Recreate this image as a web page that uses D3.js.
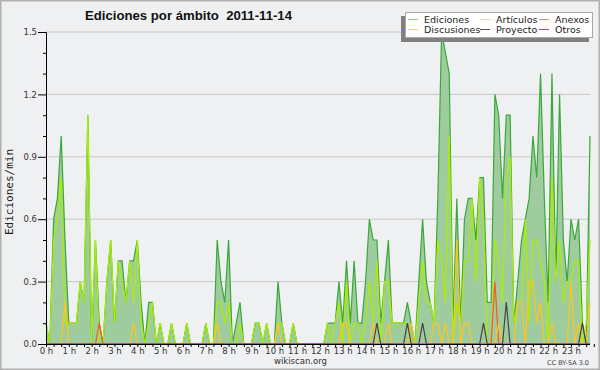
<!DOCTYPE html>
<html>
<head>
<meta charset="utf-8">
<script src="https://d3js.org/d3.v7.min.js"></script>
<style>
  body { margin: 0; background: #fff; }
  text { font-family: "DejaVu Sans", sans-serif; }
</style>
</head>
<body>
<div id="chart"></div>
<script>
// edits per minute, one value per 10 minutes (144 per day)
const ediciones = [
  0.1,0.0,0.6,0.7,1.0,0.5,0.1,0.1,0.1,0.3,0.2,1.1,
  0.0,0.5,0.1,0.0,0.3,0.5,0.1,0.4,0.4,0.2,0.4,0.4,
  0.5,0.2,0.0,0.2,0.2,0.0,0.1,0.0,0.0,0.1,0.0,0.0,
  0.0,0.1,0.0,0.0,0.0,0.0,0.1,0.0,0.0,0.5,0.3,0.2,
  0.5,0.0,0.1,0.2,0.0,0.0,0.0,0.1,0.1,0.0,0.1,0.0,
  0.0,0.3,0.1,0.0,0.0,0.1,0.0,0.0,0.0,0.0,0.0,0.0,
  0.0,0.0,0.1,0.1,0.1,0.3,0.1,0.4,0.1,0.4,0.1,0.1,
  0.3,0.6,0.5,0.5,0.1,0.3,0.5,0.1,0.1,0.1,0.1,0.2,
  0.1,0.0,0.3,0.6,0.3,0.2,0.1,0.7,1.5,1.4,1.3,0.1,
  0.7,0.1,0.6,0.7,0.7,0.5,0.8,0.8,0.2,0.2,1.2,1.1,
  0.7,1.1,1.1,0.1,0.3,0.5,0.6,0.7,1.0,0.8,1.3,0.7,
  0.2,1.3,0.3,1.2,0.5,0.3,0.6,0.5,0.6,0.1,0.0,1.0
];
const articulos = [
  0.1,0.0,0.5,0.6,0.8,0.1,0.1,0.1,0.1,0.3,0.2,1.1,
  0.0,0.5,0.0,0.0,0.3,0.5,0.1,0.4,0.3,0.2,0.4,0.2,
  0.5,0.1,0.0,0.1,0.2,0.0,0.1,0.0,0.0,0.1,0.0,0.0,
  0.0,0.1,0.0,0.0,0.0,0.0,0.1,0.0,0.0,0.2,0.2,0.1,
  0.2,0.0,0.0,0.1,0.0,0.0,0.0,0.1,0.1,0.0,0.1,0.0,
  0.0,0.1,0.1,0.0,0.0,0.1,0.0,0.0,0.0,0.0,0.0,0.0,
  0.0,0.0,0.1,0.0,0.1,0.2,0.0,0.3,0.0,0.1,0.1,0.0,
  0.1,0.3,0.1,0.4,0.0,0.3,0.3,0.1,0.1,0.1,0.1,0.1,
  0.0,0.0,0.2,0.4,0.2,0.2,0.1,0.5,0.4,0.2,1.0,0.0,
  0.2,0.1,0.4,0.4,0.7,0.3,0.8,0.6,0.0,0.0,0.5,0.4,
  0.2,0.8,0.9,0.1,0.2,0.2,0.6,0.1,0.5,0.5,0.4,0.3,
  0.0,0.8,0.3,0.5,0.2,0.3,0.3,0.4,0.4,0.0,0.1,0.5
];
const anexos = [
  0,0,0,0,0,0,0,0,0,0,0,0,
  0,0,0.1,0,0,0,0,0,0,0,0,0,
  0,0,0,0,0,0,0,0,0,0,0,0,
  0,0,0,0,0,0,0,0,0,0,0,0,
  0,0,0,0,0,0,0,0,0,0,0,0,
  0,0,0,0,0,0,0,0,0,0,0,0,
  0,0,0,0,0,0,0,0,0,0,0,0,
  0,0,0,0,0,0,0,0,0,0,0,0,
  0,0,0,0,0,0,0,0,0,0,0,0,
  0,0,0,0,0,0,0,0,0,0,0.3,0,
  0,0,0,0,0,0,0,0,0,0,0,0,
  0,0,0,0,0,0,0,0,0,0,0,0
];
const discusiones = [
  0,0,0,0,0,0.2,0,0,0,0,0,0,
  0,0,0,0,0,0,0,0,0,0,0,0.1,
  0,0,0,0,0,0,0,0,0,0,0,0,
  0,0,0,0,0,0,0,0,0,0.1,0,0,
  0,0,0,0,0,0,0,0,0,0,0,0,
  0,0.1,0,0,0,0,0,0,0,0,0,0,
  0,0,0,0,0,0,0.1,0.1,0,0,0,0,
  0,0,0.1,0,0,0,0.1,0,0,0,0,0,
  0.1,0,0,0,0,0,0.1,0.1,0,0.1,0,0,
  0.5,0,0.1,0.1,0,0,0,0,0,0,0,0.1,
  0,0,0,0,0.2,0.2,0,0.3,0.3,0.1,0.2,0,
  0,0.1,0,0,0,0,0.3,0,0.1,0,0,0.2
];
const proyecto = [
  0,0,0,0,0,0,0,0,0,0,0,0,
  0,0,0,0,0,0,0,0,0,0,0,0,
  0,0,0,0,0,0,0,0,0,0,0,0,
  0,0,0,0,0,0,0,0,0,0,0,0,
  0,0,0,0,0,0,0,0,0,0,0,0,
  0,0,0,0,0,0,0,0,0,0,0,0,
  0,0,0,0,0,0,0,0,0,0,0,0,
  0,0,0,0.1,0,0,0,0,0,0,0,0.1,
  0,0,0,0.1,0,0,0,0,0,0,0,0,
  0,0,0,0,0,0,0,0.1,0,0,0,0,
  0,0.2,0,0,0,0,0,0,0,0,0,0,
  0,0,0,0,0,0,0,0,0,0.1,0,0
];
const otros = [
  0,0,0,0,0,0,0,0,0,0,0,0,
  0,0,0,0,0,0,0,0,0,0,0,0,
  0,0,0,0,0,0,0,0,0,0,0,0,
  0,0,0,0,0,0,0,0,0,0,0,0,
  0,0,0,0,0,0,0,0,0,0,0,0,
  0,0,0,0,0,0,0,0,0,0,0,0,
  0,0,0,0,0,0,0,0,0,0,0,0,
  0,0,0,0,0,0,0,0,0,0,0,0,
  0,0,0,0,0,0,0,0,0,0,0,0,
  0,0,0,0,0,0,0,0,0,0,0,0,
  0,0,0,0,0,0,0,0,0,0,0,0,
  0,0,0,0,0,0,0,0,0,0,0,0
];

const hours = d3.range(0, 24);              // tick labels "0 h" .. "23 h"
const yTicks = [0.0, 0.3, 0.6, 0.9, 1.2, 1.5];

// drawing order: the total goes underneath, the others on top
let series = [
  {name: "Ediciones",   values: ediciones,   color: "#3aa83a", legend: "#8fd08f"},
  {name: "Artículos",   values: articulos,   color: "#aaee00", legend: "#ccf066"},
  {name: "Anexos",      values: anexos,      color: "#ff5522", legend: "#ff8855"},
  {name: "Discusiones", values: discusiones, color: "#ffc61a", legend: "#ffd44d"},
  {name: "Proyecto",    values: proyecto,    color: "#444444", legend: "#555555"},
  {name: "Otros",       values: otros,       color: "#9933ff", legend: "#9944ff"}
];

const W = 600, H = 370;
let plot = {left: 46, right: 590, top: 32, bottom: 344};

const svg = d3.select("#chart")
  .append("svg")
    .attr("width", W)
    .attr("height", H);

// background + frame
svg.append("rect")
  .attr("x", 0.75).attr("y", 0.75)
  .attr("width", W - 1.5).attr("height", H - 1.5)
  .attr("fill", "#eff0f2")
  .attr("stroke", "#b0b0b0")
  .attr("stroke-width", 1.5);

let x = d3.scaleLinear()
  .domain([0, ediciones.length - 1])
  .range([plot.left, plot.right]);

let y = d3.scaleLinear()
  .domain([0, 1.5])
  .range([plot.bottom, plot.top]);

// horizontal grid
svg.selectAll("line.grid")
  .data(yTicks.slice(1))
  .enter()
  .append("line")
    .attr("class", "grid")
    .attr("x1", plot.left).attr("x2", plot.right)
    .attr("y1", d => y(d)).attr("y2", d => y(d))
    .attr("stroke", "#c8c8c8")
    .attr("stroke-width", 1);

// total as filled area
let area = d3.area()
  .x((d, i) => x(i))
  .y0(y(0))
  .y1(d => y(d));

svg.append("path")
  .datum(ediciones)
  .attr("d", area)
  .attr("fill", "#9fcc9f");

let line = d3.line()
  .x((d, i) => x(i))
  .y(d => y(d));

svg.selectAll("path.serie")
  .data(series)
  .enter()
  .append("path")
    .attr("class", "serie")
    .attr("d", d => line(d.values))
    .attr("fill", "none")
    .attr("stroke", d => d.color)
    .attr("stroke-width", 1.2)
    .attr("stroke-linejoin", "miter");

// y axis
let yAxis = d3.axisLeft(y)
  .tickValues(d3.range(0, 16).map(d => d / 10))
  .tickFormat(d => yTicks.some(t => Math.abs(t - d) < 1e-9) ? d3.format(".1f")(d) : "")
  .tickSize(3)
  .tickPadding(6);

let gy = svg.append("g")
  .attr("transform", "translate(" + plot.left + ",0)")
  .call(yAxis);
gy.select(".domain").attr("stroke", "#000");
gy.selectAll(".tick line")
  .attr("stroke", "#000")
  .attr("x2", d => yTicks.some(t => Math.abs(t - d) < 1e-9) ? -8 : -3);
gy.selectAll(".tick text")
  .attr("fill", "#333")
  .style("font-size", "8.5px")
  .style("font-family", "DejaVu Sans");

// x axis: a tick every 20 minutes, label every hour
let xAxis = d3.axisBottom(x)
  .tickValues(d3.range(0, 145, 2))
  .tickFormat(d => d % 6 === 0 && d / 6 < 24 ? hours[d / 6] + " h" : "")
  .tickSize(3)
  .tickPadding(1);

let gx = svg.append("g")
  .attr("transform", "translate(0," + plot.bottom + ")")
  .call(xAxis);
gx.select(".domain").attr("stroke", "#000").attr("d", "M" + plot.left + ",0.5H" + plot.right);
gx.selectAll(".tick line").attr("stroke", "#000");
gx.selectAll(".tick text")
  .attr("fill", "#333")
  .style("font-size", "8.5px")
  .style("font-family", "DejaVu Sans");

// title
svg.append("text")
  .attr("x", 85)
  .attr("y", 19.5)
  .attr("textLength", 207)
  .attr("lengthAdjust", "spacingAndGlyphs")
  .style("font-family", "Liberation Sans, Arial, sans-serif")
  .style("font-weight", "bold")
  .style("font-size", "13.5px")
  .style("white-space", "pre")
  .attr("fill", "#111")
  .text("Ediciones por ámbito  2011-11-14");

// y label
svg.append("text")
  .attr("transform", "translate(13,192)rotate(-90)")
  .attr("text-anchor", "middle")
  .style("font-family", "DejaVu Sans Mono, monospace")
  .style("font-size", "11px")
  .attr("fill", "#222")
  .text("Ediciones/min");

// footer
svg.append("text")
  .attr("x", 300.5).attr("y", 364)
  .attr("text-anchor", "middle")
  .style("font-size", "8.5px")
  .attr("fill", "#333")
  .text("wikiscan.org");

svg.append("text")
  .attr("x", 589).attr("y", 365)
  .attr("text-anchor", "end")
  .style("font-size", "6.5px")
  .attr("fill", "#444")
  .text("CC BY-SA 3.0");

// legend
let lg = svg.append("g");
lg.append("rect")
  .attr("x", 401).attr("y", 16)
  .attr("width", 188).attr("height", 26)
  .attr("fill", "#808080");
lg.append("rect")
  .attr("x", 405.5).attr("y", 12.5)
  .attr("width", 187).attr("height", 25)
  .attr("fill", "#fff")
  .attr("stroke", "#a8a8a8");

// legend order: column by column, two rows
let legendOrder = ["Ediciones", "Discusiones", "Artículos", "Proyecto", "Anexos", "Otros"];
let colX = [408, 480, 539];
let legendItems = lg.selectAll("g.item")
  .data(legendOrder.map(n => series.find(s => s.name === n)))
  .enter()
  .append("g")
    .attr("class", "item")
    .attr("transform", (d, i) => "translate(" + colX[Math.floor(i / 2)] + "," + (19 + (i % 2) * 10) + ")");

legendItems.append("line")
  .attr("x1", 0).attr("x2", 10)
  .attr("y1", 0.5).attr("y2", 0.5)
  .attr("stroke", d => d.legend)
  .attr("stroke-width", 1);

legendItems.append("text")
  .attr("x", 16)
  .attr("y", 3.5)
  .style("font-size", "9.5px")
  .attr("fill", "#222")
  .text(d => d.name);
</script>
</body>
</html>
